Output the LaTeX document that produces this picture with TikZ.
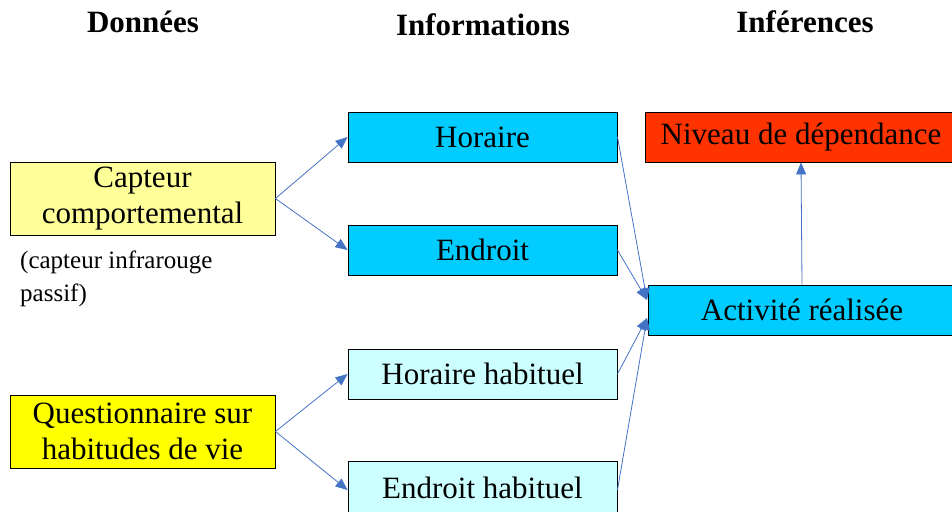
\documentclass[tikz,border=0pt]{standalone}
\usepackage{fontspec}
\setmainfont{Liberation Serif}
\usetikzlibrary{arrows.meta}
\definecolor{arrowblue}{HTML}{4472C4}
\definecolor{lightyel}{HTML}{FFFF99}
\definecolor{yel}{HTML}{FFFF00}
\definecolor{cyanbox}{HTML}{00CCFF}
\definecolor{palecyan}{HTML}{CCFFFF}
\definecolor{redbox}{HTML}{FF3300}
\tikzset{
  box/.style={draw=black, line width=0.9pt, rectangle, inner sep=0pt, align=center,
    font=\fontsize{31}{36}\selectfont},
  title/.style={font=\fontsize{31}{35}\selectfont\bfseries, anchor=base},
  conn/.style={draw=arrowblue, line width=0.8pt, -{Triangle[length=12pt,width=10pt]}},
}
\begin{document}
\begin{tikzpicture}[x=1pt,y=-1pt]
\useasboundingbox (0,0) rectangle (952,511);
\begin{scope}
\clip (0,0) rectangle (952,511);
% titles
\node[title] (t1) at (143,33) {Données};
\node[title] (t2) at (483,36) {Informations};
\node[title] (t3) at (805,33) {Inférences};
% data
\node[box, fill=lightyel, minimum width=265pt, minimum height=73pt] (capt) at (142.5,198.5) {\raisebox{-3.5pt}{\begin{tabular}{@{}c@{}}Capteur\\comportemental\end{tabular}}};
\node[anchor=north west, align=left, inner sep=0pt, font=\fontsize{25}{33}\selectfont] (note) at (20,251) {(capteur infrarouge\\passif)};
\node[box, fill=yel, minimum width=265pt, minimum height=73pt] (quest) at (142.5,431.5) {Questionnaire sur\\habitudes de vie};
% information
\node[box, fill=cyanbox, minimum width=269pt, minimum height=50pt] (hor) at (482.5,137) {Horaire};
\node[box, fill=cyanbox, minimum width=269pt, minimum height=50pt] (end) at (482.5,250) {Endroit};
\node[box, fill=palecyan, minimum width=269pt, minimum height=50pt] (horh) at (482.5,374) {Horaire habituel};
\node[box, fill=palecyan, minimum width=269pt, minimum height=54pt] (endh) at (482.5,488) {Endroit habituel};
% inferences
\node[box, fill=redbox, minimum width=312pt, minimum height=50pt] (niv) at (801,137) {Niveau de dépendance};
\node[box, fill=cyanbox, minimum width=308pt, minimum height=50pt] (act) at (802,310) {Activité réalisée};
\coordinate (actin1) at (647,300);
\coordinate (actin2) at (647,318);
% connectors
\draw[conn] (capt.east) -- (hor.west);
\draw[conn] (capt.east) -- (end.west);
\draw[conn] (quest.east) -- (horh.west);
\draw[conn] (quest.east) -- ([yshift=-2pt]endh.west);
\draw[conn] (hor.east) -- (actin1);
\draw[conn] (end.east) -- (actin1);
\draw[conn] (horh.east) -- (actin2);
\draw[conn] ([yshift=-2pt]endh.east) -- (actin2);
\draw[conn] (act.north) -- (niv.south);
\end{scope}
\end{tikzpicture}
\end{document}
